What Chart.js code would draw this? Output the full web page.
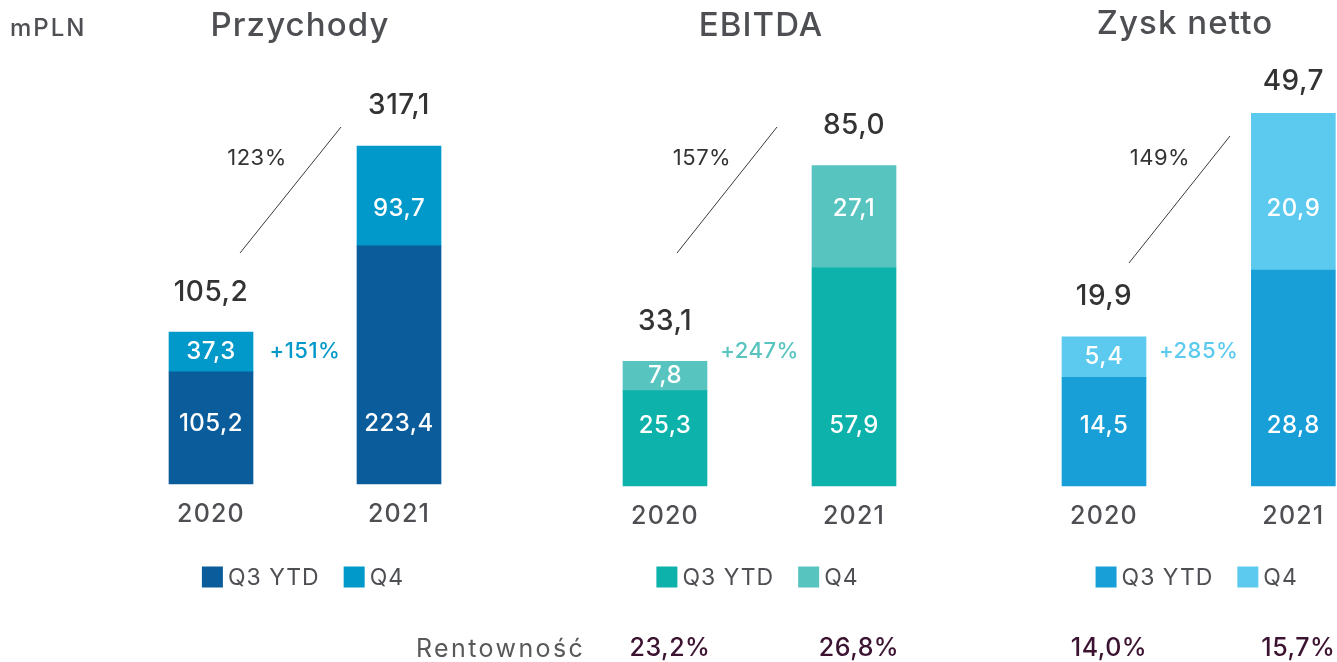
<!DOCTYPE html>
<html>
<head>
<meta charset="utf-8">
<script src="https://cdn.jsdelivr.net/npm/chart.js@4.4.1/dist/chart.umd.min.js"></script>
<style>
  html, body { margin: 0; padding: 0; background: #ffffff; }
  #wrap { position: relative; width: 1337px; height: 662px; overflow: hidden; background: #fff; }
  canvas { position: absolute; left: 0; top: 0; }
  .txt { position: absolute; font-family: 'Inter', sans-serif; white-space: nowrap; height: 44px; line-height: 44px; }
  .title { font-size: 33px; font-weight: 500; color: #4d4f53; letter-spacing: 1.1px; width: 400px; text-align: center; }
</style>
</head>
<body>
<div id="wrap">
  <canvas id="c1" width="1337" height="662"></canvas>
  <canvas id="c2" width="1337" height="662"></canvas>
  <canvas id="c3" width="1337" height="662"></canvas>
  <div class="txt" id="unit" style="left:10px; top:6px; font-size:24px; font-weight:500; color:#4d4f53; letter-spacing:2px;"></div>
  <div class="txt title" id="t1" style="left:100px; top:2px;"></div>
  <div class="txt title" id="t2" style="left:561px; top:2px;"></div>
  <div class="txt title" id="t3" style="left:985px; top:0px;"></div>
  <div class="txt" id="rent" style="left:416px; top:626px; font-size:25px; color:#58595b; letter-spacing:2.4px;"></div>
</div>
<script>
// ---- data ----
const unitLabel = "mPLN";
const years = ["2020", "2021"];
const seriesNames = ["Q3 YTD", "Q4"];
const chartTitles = ["Przychody", "EBITDA", "Zysk netto"];
const revenueQ3 = [105.2, 223.4];
const revenueQ4 = [37.3, 93.7];
const revenueTotals = ["105,2", "317,1"];
const ebitdaQ3 = [25.3, 57.9];
const ebitdaQ4 = [7.8, 27.1];
const ebitdaTotals = ["33,1", "85,0"];
const netQ3 = [14.5, 28.8];
const netQ4 = [5.4, 20.9];
const netTotals = ["19,9", "49,7"];
const yoyLabels = ["123%", "157%", "149%"];
const q4GrowthLabels = ["+151%", "+247%", "+285%"];
const marginLabel = "Rentowność";
const ebitdaMargins = ["23,2%", "26,8%"];
const netMargins = ["14,0%", "15,7%"];

// ---- layout / style ----
const FONT = "'Inter', sans-serif";
const CW = 1337, CH = 662, TOP = 60, AXIS_H = 45;

document.getElementById('unit').textContent = unitLabel;
document.getElementById('t1').textContent = chartTitles[0];
document.getElementById('t2').textContent = chartTitles[1];
document.getElementById('t3').textContent = chartTitles[2];
document.getElementById('rent').textContent = marginLabel;

const specs = [
  { id: 'c1', q3: revenueQ3, q4: revenueQ4, totals: revenueTotals, yoy: yoyLabels[0], q4g: q4GrowthLabels[0], margins: null,
    colors: ['#0b5c9a', '#0099c9'], left: 211, right: 399, bottom: 484, ppu: 1.066,
    line: [29, 253, 130, 127], yoyPos: [46, 158] },
  { id: 'c2', q3: ebitdaQ3, q4: ebitdaQ4, totals: ebitdaTotals, yoy: yoyLabels[1], q4g: q4GrowthLabels[1], margins: ebitdaMargins,
    colors: ['#0db3ab', '#57c4bf'], left: 665, right: 854, bottom: 486, ppu: 3.77,
    line: [12, 253, 112, 127], yoyPos: [37, 158] },
  { id: 'c3', q3: netQ3, q4: netQ4, totals: netTotals, yoy: yoyLabels[2], q4g: q4GrowthLabels[2], margins: netMargins,
    colors: ['#189fd8', '#5ccaee'], left: 1104, right: 1294, bottom: 486, ppu: 7.5,
    line: [25, 263, 126, 136], yoyPos: [56, 158] }
];

function fmt(v) { return v.toFixed(1).replace('.', ','); }

const spacingPlugin = {
  id: 'spacing',
  beforeDraw(chart) { chart.ctx.save(); chart.ctx.letterSpacing = '1.2px'; },
  afterDraw(chart) { chart.ctx.restore(); }
};

function labelsPlugin(s) {
  return {
    id: 'labels_' + s.id,
    afterDraw(chart) {
      const c = chart.ctx;
      const m0 = chart.getDatasetMeta(0), m1 = chart.getDatasetMeta(1);
      const base = chart.scales.y.getPixelForValue(0);
      c.save();
      c.letterSpacing = '0.5px';
      c.textAlign = 'center';
      c.textBaseline = 'middle';
      for (let i = 0; i < years.length; i++) {
        const b0 = m0.data[i], b1 = m1.data[i];
        c.fillStyle = '#ffffff';
        c.font = '500 24px ' + FONT;
        c.fillText(fmt(s.q3[i]), b0.x, base - 60);
        const q4y = i === 0 ? (b1.y + b1.base) / 2 : 209;
        c.fillText(fmt(s.q4[i]), b1.x, q4y);
        c.fillStyle = '#333333';
        c.font = '500 28px ' + FONT;
        c.fillText(s.totals[i], b1.x, Math.max(b1.y - 40, 82));
        if (s.margins) {
          c.fillStyle = '#3b1331';
          c.font = '500 25px ' + FONT;
          c.fillText(s.margins[i], b1.x + 5, 648);
        }
      }
      const x0 = m0.data[0].x, x1 = m0.data[1].x;
      // diagonal connector
      c.strokeStyle = '#3a3a3a';
      c.lineWidth = 1;
      c.beginPath();
      c.moveTo(x0 + s.line[0], s.line[1]);
      c.lineTo(x0 + s.line[2], s.line[3]);
      c.stroke();
      c.fillStyle = '#333333';
      c.font = '400 22px ' + FONT;
      c.fillText(s.yoy, x0 + s.yoyPos[0], s.yoyPos[1]);
      // Q4 growth
      c.fillStyle = s.colors[1];
      c.font = '500 22px ' + FONT;
      c.fillText(s.q4g, (x0 + x1) / 2, 351);
      // legend
      c.font = '400 23px ' + FONT;
      c.letterSpacing = '1px';
      c.textAlign = 'left';
      const box = 21, gap = 5, itemGap = 24;
      const ds = chart.data.datasets;
      let total = 0;
      const widths = ds.map(d => c.measureText(d.label).width);
      widths.forEach((w, k) => { total += box + gap + w + (k < ds.length - 1 ? itemGap : 0); });
      let lx = (x0 + x1) / 2 - 2 - total / 2;
      const ly = 577;
      ds.forEach((d, k) => {
        c.fillStyle = d.backgroundColor;
        c.fillRect(lx, ly - box / 2, box, box);
        c.fillStyle = '#4d4f53';
        c.fillText(d.label, lx + box + gap, ly + 1);
        lx += box + gap + widths[k] + itemGap;
      });
      c.restore();
    }
  };
}

specs.forEach(s => {
  new Chart(document.getElementById(s.id), {
    type: 'bar',
    data: {
      labels: years,
      datasets: [
        { label: seriesNames[0], data: s.q3, backgroundColor: s.colors[0], stack: 's', barThickness: 84, clip: false },
        { label: seriesNames[1], data: s.q4, backgroundColor: s.colors[1], stack: 's', barThickness: 84, clip: false }
      ]
    },
    options: {
      responsive: false,
      animation: false,
      events: [],
      layout: { padding: { left: s.left, right: CW - s.right, top: TOP, bottom: CH - s.bottom - AXIS_H } },
      plugins: { legend: { display: false }, tooltip: { enabled: false }, title: { display: false } },
      scales: {
        x: {
          stacked: true, offset: false,
          grid: { display: false, drawTicks: false }, border: { display: false },
          ticks: { padding: 15, font: { family: FONT, size: 25, weight: 500 }, color: '#4d4f53', maxRotation: 0, autoSkip: false },
          afterFit: (sc) => { sc.height = AXIS_H; }
        },
        y: { stacked: true, display: false, min: 0, max: (s.bottom - TOP) / s.ppu }
      }
    },
    plugins: [spacingPlugin, labelsPlugin(s)]
  });
});
</script>
</body>
</html>
